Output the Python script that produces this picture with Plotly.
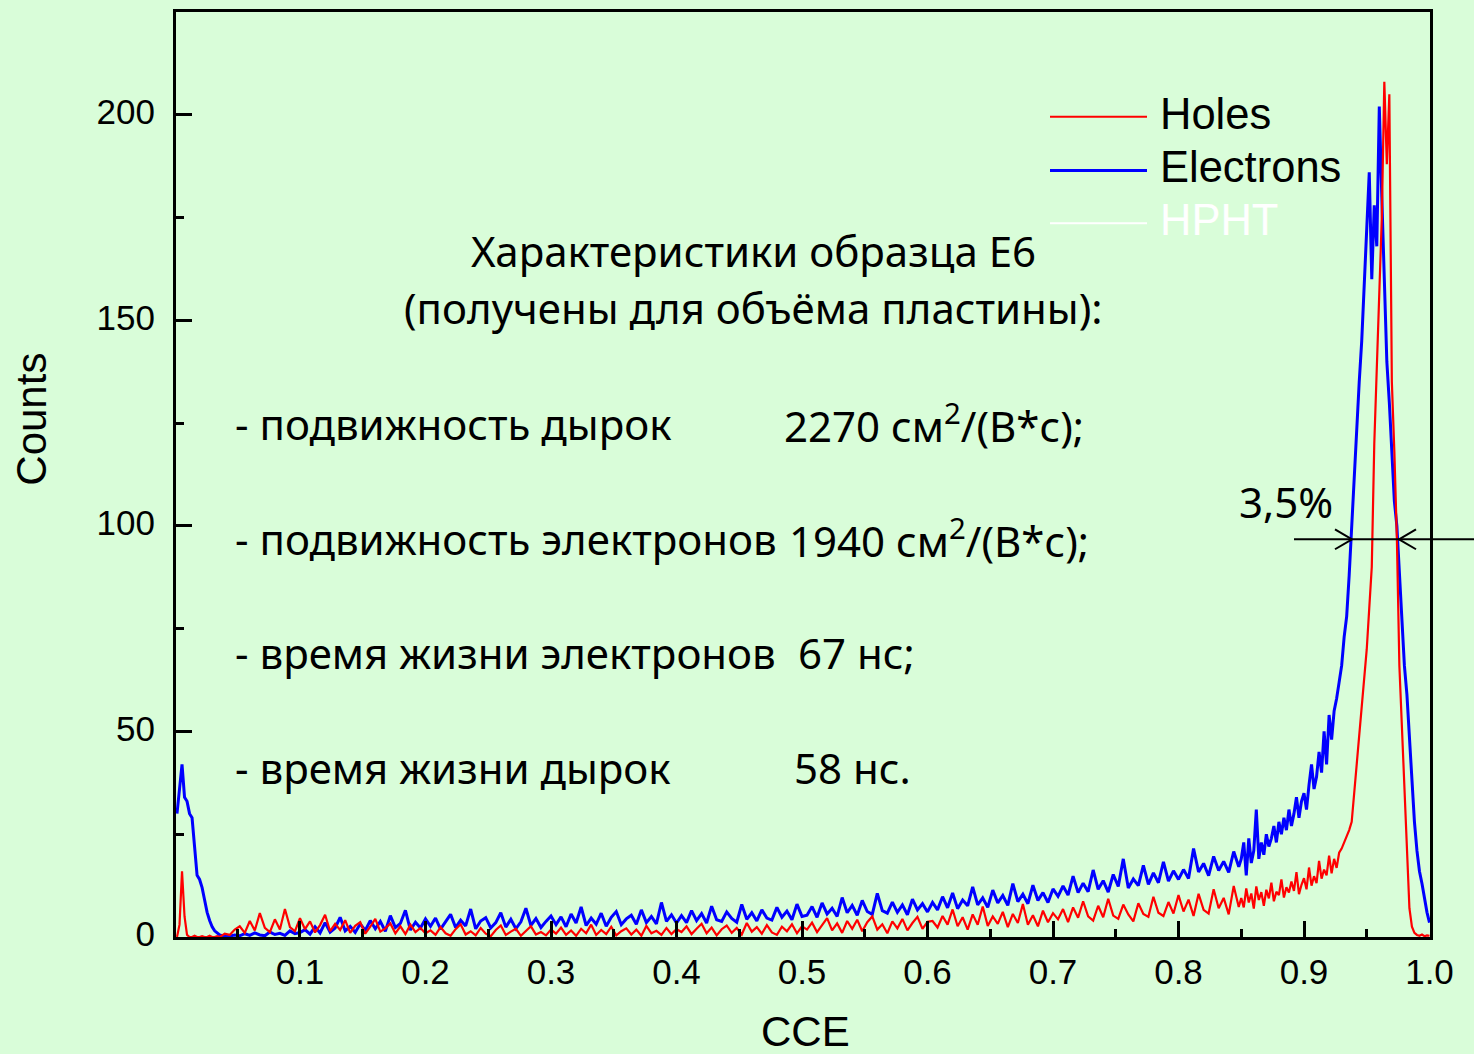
import plotly.graph_objects as go

# ---------------- data ----------------
# CCE channels: fine grid at the start and in the peak, coarser in the plateau
cce_start = [round(0.002 * i, 3) for i in range(1, 21)]        # 0.002 .. 0.040
cce_plateau = [round(0.044 + 0.004 * i, 3) for i in range(202)]  # 0.044 .. 0.848
cce_peak = [round(0.850 + 0.002 * i, 3) for i in range(76)]      # 0.850 .. 1.000

electrons_start = [30, 36, 42, 34, 33, 30, 29, 22, 15, 14,
                   12, 9, 6, 4, 2.5, 1.5, 1, 0.5, 0.3, 0.2]
holes_start = [0, 3, 16, 5, 0.5, 0, 0, 0.3, 0, 0,
               0.2, 0, 0, 0.3, 0, 0, 0.2, 0, 0.4, 0.8]

electrons_plateau = (
    [0.2, 0.5, 0.3, 0.8, 0.4, 1.0, 0.5, 0.3, 1.2, 0.6, 0.9, 0.4, 1.5, 0.8, 1.1]
    + [1.8, 0.7, 2.5, 1.0, 3.5, 1.2, 2.2, 4.8, 1.5, 2.6, 1.1, 3.2, 1.6, 4.0, 2.0,
       3.8, 1.4, 5.2, 2.3, 3.3, 6.5, 1.7, 3.6, 2.2, 4.4]
    + [2.6, 4.6, 1.9, 3.8, 5.5, 2.3, 4.1, 2.7, 6.8, 2.0, 3.9, 4.7, 2.2, 3.5, 5.9,
       2.4, 4.3, 2.0, 3.7, 7.0, 2.8, 4.5, 2.3, 3.8, 5.1]
    + [3.0, 4.9, 2.5, 5.6, 3.4, 7.3, 2.8, 4.6, 3.1, 5.8, 2.6, 4.8, 6.2, 3.0, 4.4,
       5.3, 3.1, 6.6, 3.5, 5.0, 3.2, 8.4, 3.8, 5.4, 3.4]
    + [5.2, 3.5, 6.4, 4.0, 5.7, 3.4, 7.5, 4.2, 3.8, 6.1, 4.5, 3.6, 7.9, 4.3, 5.9,
       3.9, 6.6, 4.6, 4.1, 7.2, 4.8, 6.3, 4.2, 8.0, 5.0]
    + [5.3, 7.4, 4.8, 8.3, 5.6, 7.0, 5.0, 9.6, 5.9, 7.7, 5.3, 8.9, 6.2, 5.5, 10.6,
       6.4, 5.8, 8.5, 6.0, 7.8, 5.4, 9.2, 6.6, 8.1, 6.1]
    + [8.4, 6.6, 9.8, 7.1, 10.7, 6.9, 9.0, 7.6, 12.2, 7.8, 9.5, 7.2, 11.4, 8.3, 10.1,
       7.7, 13.0, 8.6, 10.4, 8.1, 12.6, 8.9, 10.8, 8.4, 11.7]
    + [9.9, 12.4, 10.2, 14.8, 10.8, 13.1, 11.0, 16.3, 11.6, 13.7, 10.9, 15.2, 12.3,
       19.0, 11.9, 14.1, 12.5, 17.4, 12.8, 15.6, 13.2, 18.3, 13.6, 16.1, 14.0]
    + [16.4, 14.2, 21.5, 15.8, 17.9, 14.9, 19.6, 16.2, 18.4, 15.7, 20.8, 17.1]
)
holes_plateau = (
    [0.5, 1.8, 2.6, 1.0, 3.9, 1.6, 5.8, 2.2, 1.2, 4.3, 1.8, 6.8, 2.4, 1.4, 4.6]
    + [1.9, 3.8, 1.1, 2.9, 5.4, 1.4, 3.2, 1.7, 4.1, 1.0, 2.7, 3.6, 0.8, 2.5, 4.4,
       1.3, 2.1, 3.3, 0.9, 2.6, 0.7, 3.0, 1.2, 2.2, 0.9]
    + [1.6, 0.5, 2.4, 0.9, 0.3, 1.9, 3.1, 0.6, 1.4, 0.4, 2.2, 0.8, 0.2, 1.7, 2.8,
       0.5, 1.3, 2.0, 0.3, 1.5, 2.6, 0.6, 1.2, 0.4, 1.8]
    + [0.8, 2.3, 0.5, 1.6, 0.3, 2.0, 0.9, 3.0, 0.5, 1.7, 0.7, 2.5, 0.4, 1.4, 2.1,
       0.6, 1.8, 0.3, 2.7, 0.9, 1.5, 0.5, 2.2, 0.7, 1.9]
    + [1.2, 2.6, 0.7, 2.0, 3.2, 0.9, 2.3, 0.4, 1.9, 2.8, 1.0, 2.2, 0.6, 3.4, 1.3,
       2.4, 0.8, 2.9, 1.1, 0.5, 2.5, 1.4, 3.1, 0.9, 2.6]
    + [1.8, 3.5, 1.2, 3.0, 4.6, 1.6, 3.3, 1.0, 3.9, 2.0, 4.2, 1.4, 3.6, 5.0, 1.8,
       3.1, 0.9, 3.8, 2.1, 4.4, 1.6, 3.4, 4.9, 2.0, 3.7]
    + [3.9, 2.3, 5.1, 3.0, 6.7, 2.6, 4.8, 1.8, 5.5, 3.0, 7.4, 2.7, 5.0, 3.2, 6.1,
       2.4, 5.6, 3.4, 8.0, 3.0, 5.3, 2.6, 6.4, 3.6, 5.8]
    + [4.3, 6.8, 3.6, 7.2, 4.7, 8.7, 5.0, 4.0, 7.6, 4.8, 9.3, 5.2, 4.4, 7.9, 5.5,
       3.8, 8.2, 5.6, 4.9, 9.8, 5.9, 5.1, 8.5, 5.7, 10.2]
    + [6.2, 9.1, 5.1, 10.5, 6.6, 5.7, 11.6, 7.0, 9.5, 5.5, 12.4, 7.3]
)

electrons_peak = [19, 23, 15, 24, 18, 21, 31, 19, 23, 20,
                  25, 22, 24, 27, 23, 28, 25, 29, 26, 31,
                  27, 30, 34, 29, 33, 35, 31, 37, 42, 36,
                  39, 45, 40, 50, 42, 54, 48, 55, 58, 62,
                  66, 73, 78, 88, 100, 110, 125, 135, 145, 160,
                  172, 186, 160, 178, 168, 202, 180, 160, 140, 130,
                  118, 106, 100, 88, 78, 66, 59, 48, 37, 28,
                  21, 16, 13, 9, 6, 3.5]
holes_peak = [9.5, 7.2, 11.8, 8.4, 10.6, 6.9, 12.3, 9.0, 10.9, 7.6,
              11.5, 9.4, 13.2, 8.7, 11.0, 10.2, 14.0, 9.6, 12.1, 10.8,
              13.5, 11.2, 15.8, 10.4, 12.7, 14.3, 11.6, 16.9, 12.5, 14.8,
              13.1, 18.5, 14.2, 16.4, 15.0, 19.8, 15.5, 19.0, 16.8, 20.5,
              21.5, 23.0, 24.5, 26, 28, 35, 40, 47, 56, 63,
              70, 80, 90, 120, 140, 158, 175, 208, 188, 205,
              135, 118, 97, 66, 52, 36, 20, 7, 2.5, 1,
              0.5, 0.3, 0.6, 0.2, 0.4, 0.3]

series_names = ["Holes", "Electrons", "HPHT"]
x_ticks = [0.1, 0.2, 0.3, 0.4, 0.5, 0.6, 0.7, 0.8, 0.9, 1.0]
x_tick_text = ["0.1", "0.2", "0.3", "0.4", "0.5", "0.6", "0.7", "0.8", "0.9", "1.0"]
y_ticks = [0, 50, 100, 150, 200]

info_title = ["Характеристики образца E6", "(получены для объёма пластины):"]
info_labels = ["- подвижность дырок", "- подвижность электронов",
               "- время жизни электронов", "- время жизни дырок"]
info_values = ["2270 см<sup>2</sup>/(В*с);", "1940 см<sup>2</sup>/(В*с);",
               "67 нс;", "58 нс."]
fwhm_label = "3,5%"

# ---------------- figure ----------------
cce = cce_start + cce_plateau + cce_peak
electrons = electrons_start + electrons_plateau + electrons_peak
holes = holes_start + holes_plateau + holes_peak

BG = "#D9FDD9"
TXT_FONT = "Noto Sans, Open Sans, DejaVu Sans, sans-serif"
AX_FONT = "Liberation Sans, Arial, sans-serif"
TXT_SIZE = 42

fig = go.Figure()
fig.add_trace(go.Scatter(x=cce, y=electrons, mode="lines", name=series_names[1],
                         line=dict(color="#0000FF", width=3), showlegend=False))
fig.add_trace(go.Scatter(x=cce, y=holes, mode="lines", name=series_names[0],
                         line=dict(color="#FF0000", width=2.2), showlegend=False))

ann = []
shapes = []


def px_x(px):
    return (px - 176) / 1254.0


def px_y(py):
    return (937 - py) / 928.0


# manual legend
legend_rows = [(series_names[0], "#FF0000", 114, 2, "black"),
               (series_names[1], "#0000FF", 168, 3, "black"),
               (series_names[2], "#FFFFFF", 221, 2, "white")]
for name, col, py, lw, tcol in legend_rows:
    shapes.append(dict(type="line", xref="paper", yref="paper",
                       x0=px_x(1050), x1=px_x(1147), y0=px_y(py), y1=px_y(py),
                       line=dict(color=col, width=lw)))
    ann.append(dict(text=name, xref="paper", yref="paper", x=px_x(1158), y=px_y(py - 3),
                    xanchor="left", yanchor="middle", showarrow=False,
                    font=dict(family=AX_FONT, size=43.5, color=tcol)))

# info text
for t, py in zip(info_title, [248, 305]):
    ann.append(dict(text=t, xref="paper", yref="paper", x=px_x(753), y=px_y(py),
                    xanchor="center", yanchor="middle", showarrow=False,
                    font=dict(family=TXT_FONT, size=TXT_SIZE, color="black")))
rows_py = [422, 537, 652, 767]
vals_px = [782, 787, 796, 792]
for lab, val, py, vx in zip(info_labels, info_values, rows_py, vals_px):
    ann.append(dict(text=lab, xref="paper", yref="paper", x=px_x(233), y=px_y(py),
                    xanchor="left", yanchor="middle", showarrow=False,
                    font=dict(family=TXT_FONT, size=TXT_SIZE, color="black")))
    ann.append(dict(text=val, xref="paper", yref="paper", x=px_x(vx), y=px_y(py),
                    xanchor="left", yanchor="middle", showarrow=False,
                    font=dict(family=TXT_FONT, size=TXT_SIZE, color="black")))

# FWHM marker
ann.append(dict(text=fwhm_label, xref="paper", yref="paper", x=px_x(1286), y=px_y(500),
                xanchor="center", yanchor="middle", showarrow=False,
                font=dict(family=TXT_FONT, size=TXT_SIZE, color="black")))
arrow_line = dict(color="black", width=2)
shapes.append(dict(type="line", xref="paper", yref="paper", x0=px_x(1294), x1=px_x(1474),
                   y0=px_y(538), y1=px_y(538), line=arrow_line))
for tip, back in [(1352, 1335), (1399, 1416)]:
    for dy in (-10, 10):
        shapes.append(dict(type="line", xref="paper", yref="paper",
                           x0=px_x(back), y0=px_y(538 + dy), x1=px_x(tip), y1=px_y(538),
                           line=arrow_line))

# axis titles
ann.append(dict(text="Counts", xref="paper", yref="paper", x=px_x(32), y=px_y(418),
                xanchor="center", yanchor="middle", textangle=-90, showarrow=False,
                font=dict(family=AX_FONT, size=42, color="black")))
ann.append(dict(text="CCE", xref="paper", yref="paper", x=px_x(805), y=px_y(1032),
                xanchor="center", yanchor="middle", showarrow=False,
                font=dict(family=AX_FONT, size=42, color="black")))

fig.update_layout(
    width=1474, height=1054, autosize=False,
    margin=dict(l=176, r=44, t=9, b=117, pad=0),
    paper_bgcolor=BG, plot_bgcolor=BG,
    showlegend=False,
    annotations=ann, shapes=shapes,
)
fig.update_xaxes(range=[0.0012, 1.0004], tickmode="array", tickvals=x_ticks,
                 ticktext=x_tick_text, ticks="inside", ticklen=16, tickwidth=3,
                 tickcolor="black", showline=True, linewidth=3, linecolor="black",
                 mirror=True, showgrid=False, zeroline=False,
                 tickfont=dict(family=AX_FONT, size=35, color="black"),
                 ticklabelstandoff=2,
                 minor=dict(tickmode="array",
                            tickvals=[0.05, 0.15, 0.25, 0.35, 0.45, 0.55, 0.65, 0.75, 0.85, 0.95],
                            ticks="inside", ticklen=8, tickwidth=3, tickcolor="black",
                            showgrid=False))
fig.update_yaxes(range=[0, 225], tickmode="array", tickvals=y_ticks,
                 ticks="inside", ticklen=16, tickwidth=3,
                 tickcolor="black", showline=True, linewidth=3, linecolor="black",
                 mirror=True, showgrid=False, zeroline=False,
                 tickfont=dict(family=AX_FONT, size=35, color="black"),
                 ticklabelstandoff=11, ticklabelshift=-3,
                 minor=dict(tickmode="array", tickvals=[25, 75, 125, 175, 225],
                            ticks="inside", ticklen=8, tickwidth=3, tickcolor="black",
                            showgrid=False))

fig.write_html("out.html", config={"displayModeBar": False},
               post_script="document.body.style.margin='0';")
